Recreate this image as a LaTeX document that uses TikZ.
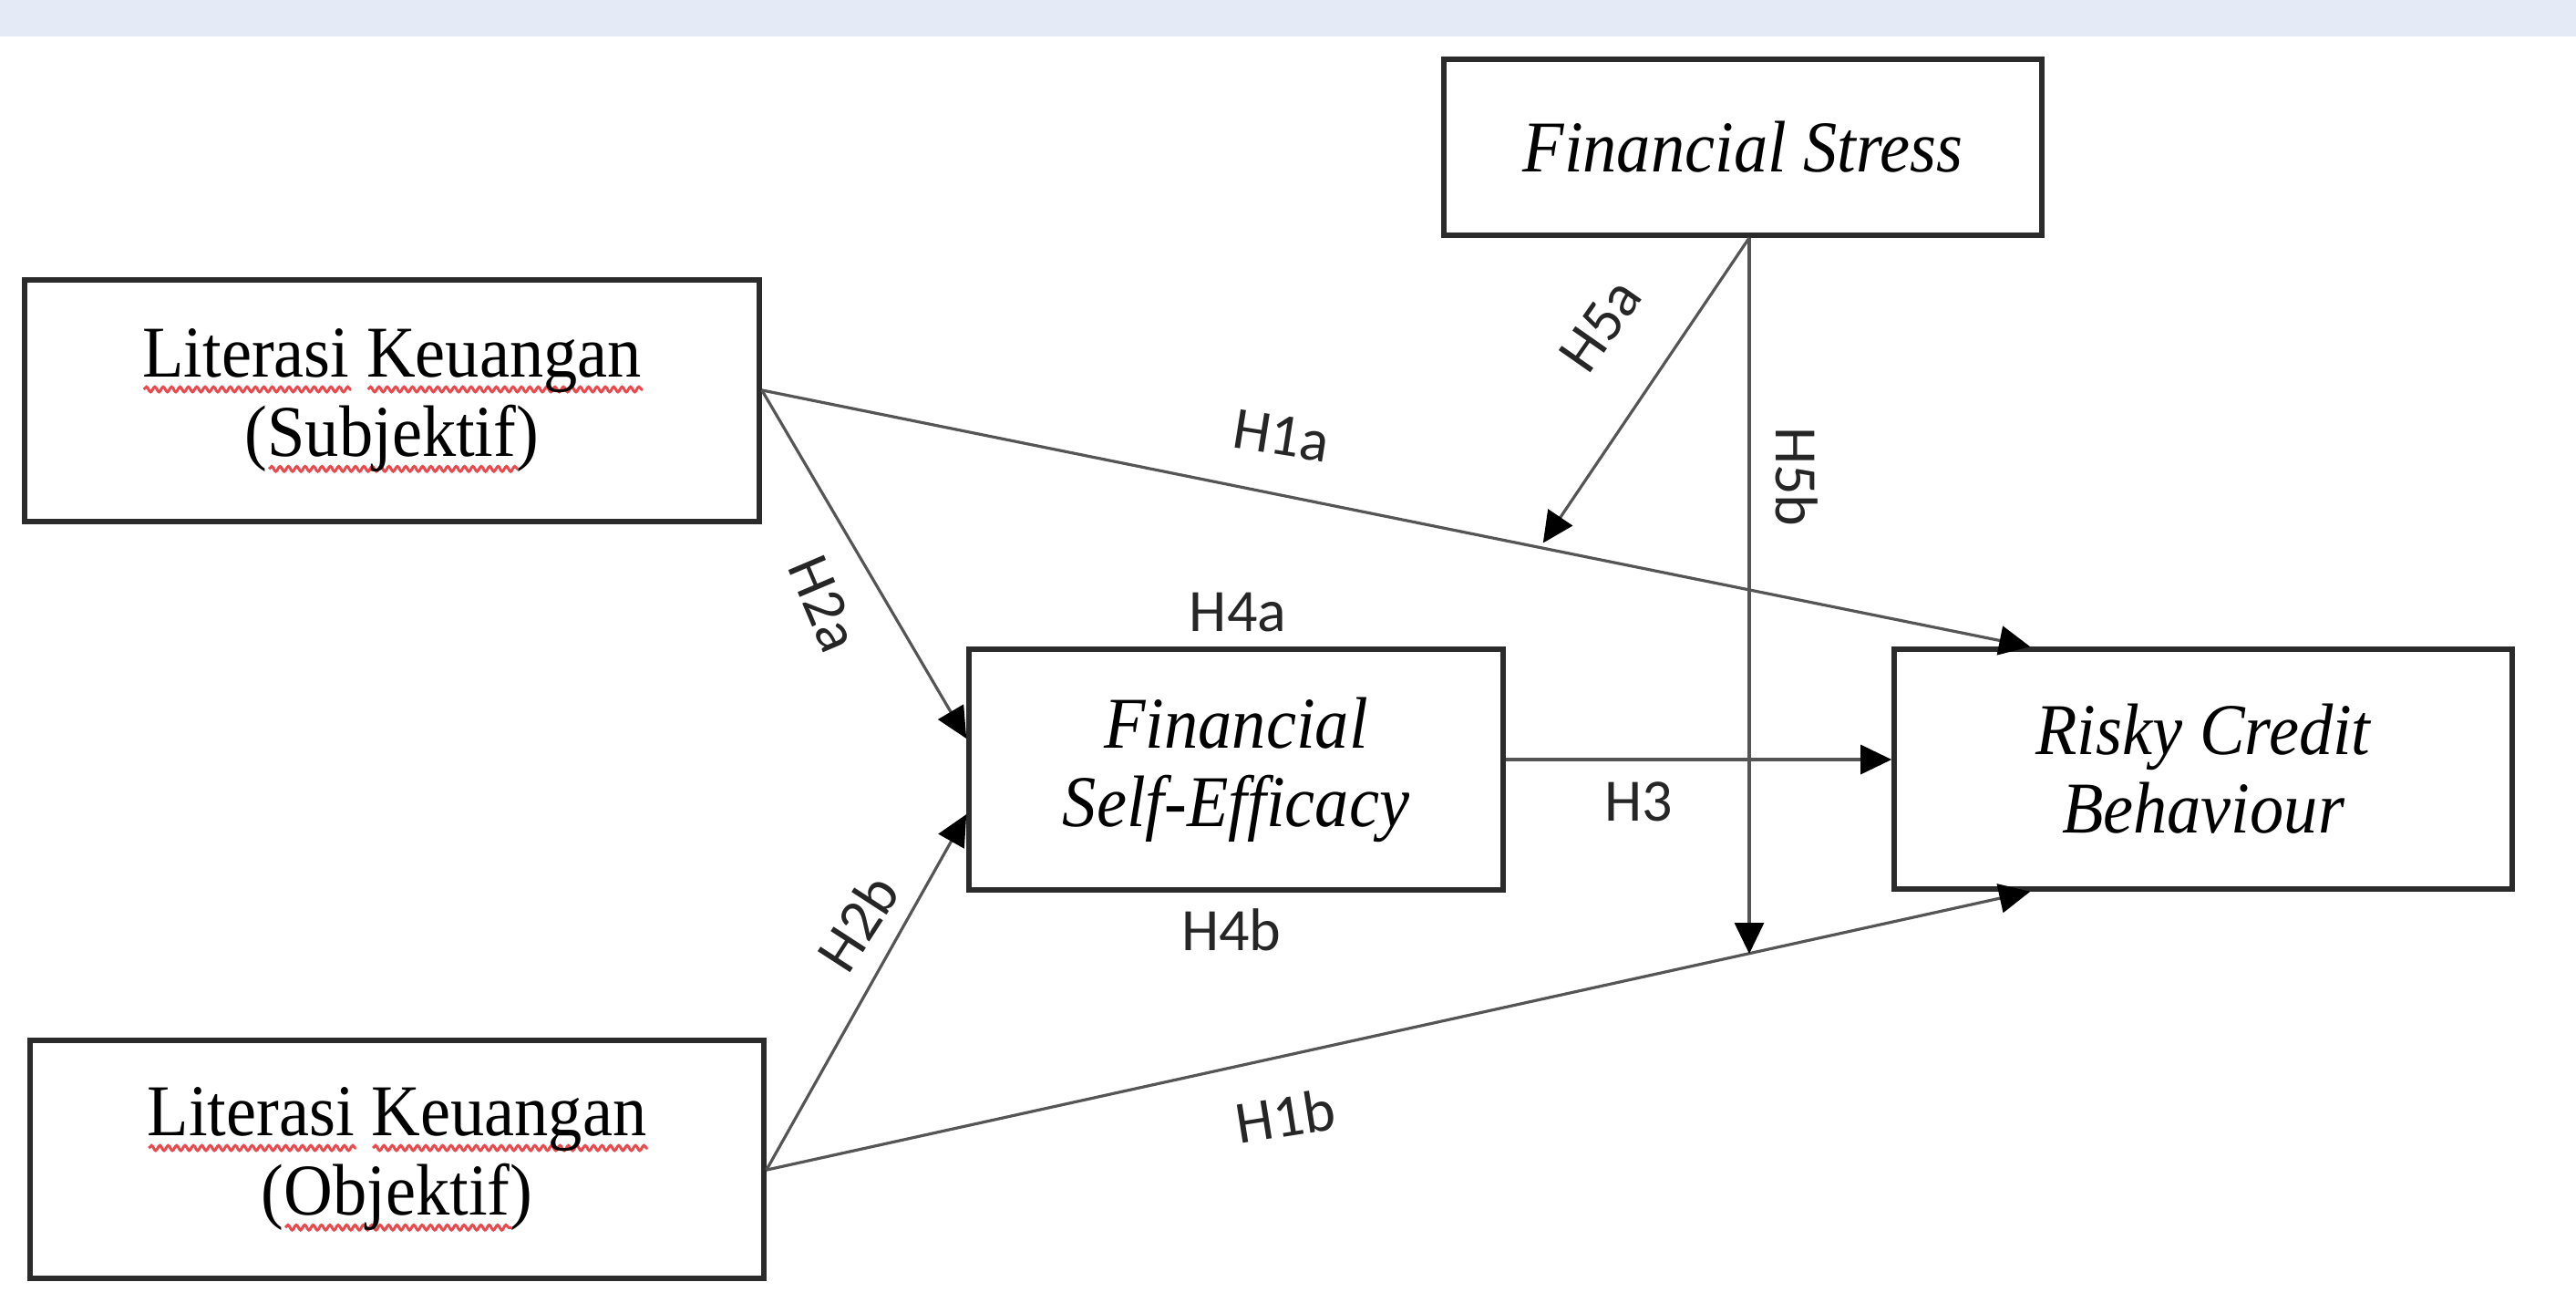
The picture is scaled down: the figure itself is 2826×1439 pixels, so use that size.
\documentclass[tikz,border=0pt]{standalone}
\usepackage{fontspec}
\usetikzlibrary{arrows.meta,calc,decorations.pathmorphing}
\newfontfamily\boxfont[FakeStretch=0.93]{Liberation Serif}
\newfontfamily\lblfont{Carlito}
\definecolor{bandcol}{HTML}{E4EBF6}
\definecolor{edgecol}{HTML}{2B2B2B}
\definecolor{conncol}{HTML}{555555}
\definecolor{squigcol}{HTML}{E84A4E}
\newbox\wavebox
\newdimen\wavewd
\newcommand\redwave[1]{\setbox\wavebox\hbox{#1}\wavewd=\wd\wavebox
  \rlap{\tikz[baseline=0pt,x=1pt,y=1pt]\draw[squigcol,line width=0.75pt,decorate,
    decoration={snake,amplitude=0.7pt,segment length=2.3pt}] (0pt,-3.4pt) -- (\wavewd,-3.4pt);}#1}
\begin{document}
\begin{tikzpicture}[x=0.25pt,y=-0.25pt,
  box/.style={draw=edgecol,line width=1.4pt,fill=white,inner sep=0pt,align=center,text=black},
  lit/.style={box,font=\boxfont\fontsize{20}{21.8}\selectfont},
  ital/.style={box,font=\boxfont\itshape\fontsize{20}{21.5}\selectfont},
  conn/.style={draw=conncol,line width=0.8pt},
  arr/.style={conn,-{Triangle[length=8.5pt,width=8pt,color=black]}},
  lbl/.style={font=\lblfont\fontsize{16.5}{18}\selectfont,text=black!85,inner sep=0pt}]
\fill[white] (0,0) rectangle (2826,1439);
\fill[bandcol] (0,0) rectangle (2826,40);
\useasboundingbox (0,0) rectangle (2826,1439);

\node[lit,minimum width=201.5pt,minimum height=66.25pt] (subj) at (430,439.5)
  {\redwave{Literasi} \redwave{Keuangan}\\(\redwave{Subjektif})};
\node[lit,minimum width=201.25pt,minimum height=65.25pt] (obj) at (435.5,1271.5)
  {\redwave{Literasi} \redwave{Keuangan}\\(\redwave{Objektif})};
\node[ital,minimum width=164pt,minimum height=48.25pt] (fs) at (1912,161.5) {Financial Stress};
\node[ital,minimum width=146.5pt,minimum height=66pt] (se) at (1356,844) {Financial\\Self-Efficacy};
\node[ital,minimum width=169.5pt,minimum height=65.75pt] (rcb) at (2417,843.5) {Risky Credit\\Behaviour};

\coordinate (s1) at ([yshift=2.9pt]subj.east);
\coordinate (o1) at ([yshift=-2.9pt]obj.east);
\coordinate (f1) at ([xshift=1.75pt]fs.south);
\coordinate (rt) at ([xshift=38pt]rcb.north west);
\coordinate (rb) at ([xshift=38pt]rcb.south west);
\coordinate (sa) at ([yshift=8.5pt]se.west);
\coordinate (sb) at ([yshift=-12.25pt]se.west);

\draw[arr] (s1) -- coordinate[pos=0.6135] (h5a) (rt);
\draw[arr] (o1) -- coordinate[pos=0.7766] (h5b) (rb);
\draw[arr] (s1) -- (sa);
\draw[arr] (o1) -- (sb);
\draw[arr] ([yshift=2.75pt]se.east) -- ([yshift=2.75pt]se.east -| rcb.west);
\draw[arr,shorten >=1.5pt] (f1) -- (h5a);
\draw[arr] (f1) -- (f1 |- h5b);

\node[lbl,rotate=-9] (l1a) at (1406,478) {H1a};
\node[lbl,rotate=9] (l1b) at (1410,1224) {H1b};
\node[lbl,rotate=-67] (l2a) at (904,662) {H2a};
\node[lbl,rotate=57] (l2b) at (941,1012) {H2b};
\node[lbl] (l3) at (1798,879) {H3};
\node[lbl] (l4a) at (1358,672) {H4a};
\node[lbl] (l4b) at (1351,1020) {H4b};
\node[lbl,rotate=55] (l5a) at (1756,357) {H5a};
\node[lbl,rotate=-90] (l5b) at (1971,523) {H5b};
\end{tikzpicture}
\end{document}
